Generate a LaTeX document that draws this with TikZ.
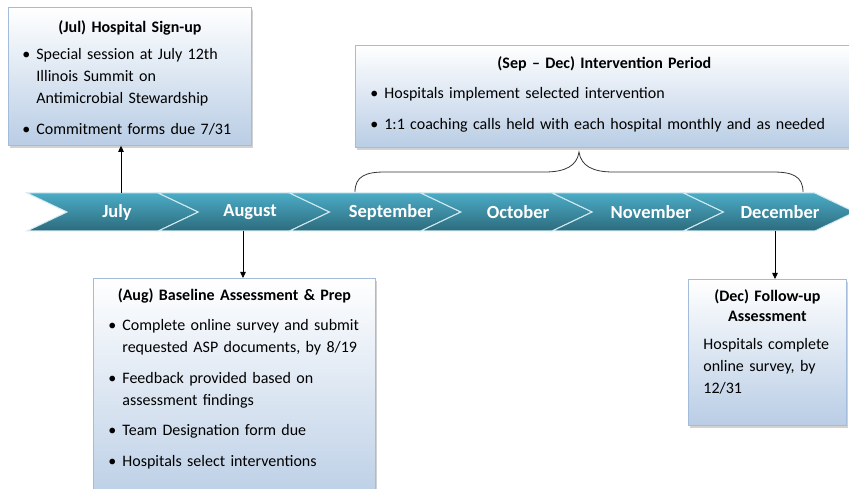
\documentclass[tikz,border=0pt]{standalone}
\usepackage{fontspec}
\setmainfont{Carlito}
\usetikzlibrary{arrows.meta, positioning, calc, shadows}

\definecolor{chevtop}{HTML}{4BACC6}
\definecolor{chevbot}{HTML}{2D6B7D}
\definecolor{panelbot}{HTML}{B9CDE5}
\definecolor{paneledge}{HTML}{A3BCDB}

\setlength{\parindent}{0pt}
\setlength{\parskip}{0pt}

% bullet line and box title
\newcommand{\bitem}[1]{\par\vspace{8.5pt}\hangindent=14pt\hangafter=1\noindent\makebox[14pt][l]{\textbullet}#1\par}
\newcommand{\ptitle}[1]{\noindent\makebox[\hsize][c]{\bfseries #1}\par\vspace{-3pt}}

\begin{document}
\begin{tikzpicture}[
    x=1pt, y=-1pt,
    >={Triangle[length=6pt, width=5.5pt]},
    line width=0.8pt,
    panel/.style={draw=paneledge, line width=0.8pt, top color=white, bottom color=panelbot,
      anchor=north west, inner sep=0pt,
      drop shadow={shadow xshift=2pt, shadow yshift=-2.5pt, fill=black!35, opacity=0.5}},
    note/.style={anchor=north west, inner sep=0pt, align=left, font=\fontsize{16}{22}\selectfont},
    month/.style={text=white, font=\fontsize{18.5}{20}\selectfont\bfseries},
    chev/.style={draw=white!75!chevtop, line width=1pt, top color=chevtop, bottom color=chevbot}
  ]
  \useasboundingbox (0,0) rectangle (849,489);
  \clip (0,0) rectangle (849,489);

  % --- month band ---
  \coordinate (bandtop) at (0,193);
  \coordinate (bandbot) at (0,231);
  \foreach \i/\m/\nm/\cx in {0/July/jul/117, 1/August/aug/250, 2/September/sep/391,
      3/October/oct/518, 4/November/nov/651, 5/December/dec/780} {
    \pgfmathsetmacro\a{27+131.3*\i}
    \path[chev] (\a,193) -- ++(131.3,0) -- ++(40,19) -- ++(-40,19) -- ++(-131.3,0) -- ++(40,-19) -- cycle;
    \node[month] (\nm) at (\cx,212) {\m};
  }

  % --- boxes ---
  \node[panel, minimum width=243pt, minimum height=138pt] (julbox) at (8,7) {};
  \node[note, text width=215pt] (jultext) at ([shift={(14,13)}]julbox.north west) {%
    \ptitle{(Jul) Hospital Sign-up}
    \bitem{Special session at July 12th\newline Illinois Summit on\newline Antimicrobial Stewardship}
    \bitem{Commitment forms due 7/31}};

  \node[panel, minimum width=498pt, minimum height=102pt] (sepbox) at (355,45) {};
  \node[note, text width=468pt] (septext) at ([shift={(15,11)}]sepbox.north west) {%
    \ptitle{(Sep -- Dec) Intervention Period}\vspace{3pt}
    \bitem{Hospitals implement selected intervention}
    \bitem{1:1 coaching calls held with each hospital monthly and as needed}};

  \node[panel, minimum width=282pt, minimum height=230pt] (augbox) at (93,278) {};
  \node[note, text width=252pt] (augtext) at ([shift={(15,10)}]augbox.north west) {%
    \ptitle{(Aug) Baseline Assessment \& Prep}\vspace{3pt}
    \bitem{Complete online survey and submit\newline requested ASP documents, by 8/19}
    \bitem{Feedback provided based on\newline assessment findings}
    \bitem{Team Designation form due}
    \bitem{Hospitals select interventions}};

  \node[panel, minimum width=158pt, minimum height=146pt] (decbox) at (688,279) {};
  \node[note, text width=128pt] (dectext) at ([shift={(15,10)}]decbox.north west) {%
    {\centering\bfseries\fontsize{16}{20}\selectfont (Dec) Follow-up\\Assessment\par}
    \vspace{6pt}
    Hospitals complete\\online survey, by\\12/31};

  % --- connectors ---
  \coordinate (juldrop) at (121,193);
  \coordinate (augdrop) at (243,231);
  \coordinate (decdrop) at (775,231);
  \draw[->] (juldrop) -- (juldrop |- julbox.south);
  \draw[->] (augdrop) -- (augdrop |- augbox.north);
  \draw[->] (decdrop) -- (decdrop |- decbox.north);

  % --- brace under the intervention box ---
  \coordinate (bl) at (355,192);
  \coordinate (bt) at (579,152);
  \coordinate (br) at (803,192);
  \draw[black!80] (bl) .. controls (355,176) and (366,172) .. (385,172) -- (545,172)
    .. controls (565,172) and (577,166) .. (bt)
    .. controls (581,166) and (593,172) .. (613,172) -- (773,172)
    .. controls (792,172) and (803,176) .. (br);
\end{tikzpicture}
\end{document}
